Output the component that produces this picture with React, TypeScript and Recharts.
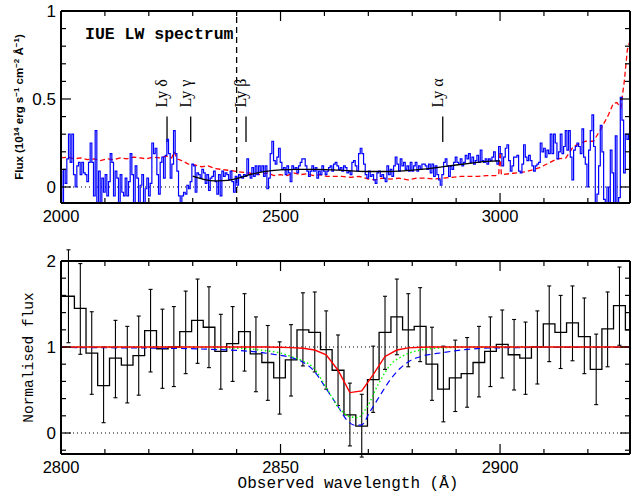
import React from 'react';
import { LineChart, Line, XAxis, YAxis, ReferenceLine, ErrorBar } from 'recharts';

// ---------------- top panel (IUE LW spectrum) ----------------
const blueStart = 2000;
const blueStep = 3.797;
const blueFluxA = [
  0.09, -0.12, 0.10, 0.02, 0.16, 0.30, 0.14, 0.30, 0.07, 0.00,
  0.12, 0.14, 0.07, 0.14, 0.08, 0.07, 0.03, 0.14, 0.25, 0.14,
  -0.05, 0.32, -0.15, 0.09, -0.15, 0.05, -0.03, 0.07, -0.05, 0.03,
  0.19, 0.14, -0.05, 0.09, 0.05, -0.15, 0.07, -0.03, -0.05, 0.05,
  -0.05, 0.03, 0.19, 0.07, -0.15, 0.12, 0.05, -0.15, 0.01, 0.07,
  -0.15, -0.01, 0.05, -0.05, 0.02, 0.25, 0.19, 0.22, 0.07, -0.04,
  0.14, 0.17, 0.05, 0.18, 0.27, 0.19, 0.05, 0.13, 0.32, 0.19,
  0.09, -0.05, -0.15, -0.05, -0.03, -0.04, 0.01, -0.01, 0.03, 0.13,
  0.12, -0.03, 0.08, 0.07, 0.05, 0.10, 0.08,
];
const blueFluxB = [
  0.02, 0.07, -0.02, 0.05, 0.06, 0.09, 0.03, -0.04, 0.07, -0.05,
  0.09, 0.06, 0.08, 0.07, 0.04, 0.09, 0.03, -0.03, 0.06, 0.01,
  0.07, 0.06, 0.05, 0.07, 0.06, 0.16, 0.07, 0.05, 0.11, 0.06,
  0.12, 0.07, 0.12, 0.09, 0.12, 0.06, 0.12, -0.01, 0.05, 0.19,
  0.26, 0.15, 0.13, 0.17, 0.22, 0.14, 0.10, 0.11, 0.07, 0.12,
  0.08, 0.03, 0.12, 0.10, 0.11, 0.08, 0.12, 0.14, 0.16, 0.16,
  0.12, 0.09, 0.06, 0.09, 0.12, 0.09, 0.11, 0.05, 0.09, 0.07,
  0.12, 0.09, 0.07, 0.09, 0.11, 0.12, 0.09, 0.13, 0.14, 0.12,
  0.10, 0.11, 0.09, 0.12,
];
const blueFluxC = [
  0.11, 0.08, 0.09, 0.07, 0.14, 0.15, 0.12, 0.09, 0.19, 0.22,
  0.19, 0.13, 0.07, 0.05, 0.09, 0.06, 0.07, 0.04, 0.02, 0.08,
  0.09, 0.06, 0.07, 0.05, 0.03, 0.12, 0.07, 0.10, 0.06, 0.12,
  0.17, 0.13, 0.09, 0.16, 0.12, 0.14, 0.10, 0.12, 0.09, 0.14,
  0.09, 0.12, 0.14, 0.09, 0.12, 0.10, 0.13, 0.13, 0.12, 0.10,
  0.13, 0.08, 0.13, 0.06, 0.12, 0.07, 0.04, 0.01, 0.07, 0.14,
  0.16, 0.12, 0.06, 0.12, 0.10, 0.14, 0.17, 0.14, 0.13, 0.16,
  0.12, 0.14, 0.18, 0.16, 0.19, 0.14, 0.17, 0.13, 0.15, 0.18,
  0.14, 0.21, 0.15,
];
const blueFluxD = [
  0.14, 0.16, 0.13, 0.16, 0.15, 0.17, 0.20, 0.15, 0.13, 0.23,
  0.19, 0.12, 0.17, 0.22, 0.24, 0.15, 0.09, 0.12, 0.17, 0.17,
  0.18, 0.09, 0.08, 0.13, 0.24, 0.17, 0.15, 0.18, 0.15, 0.12,
  0.09, 0.12, 0.13, 0.14, 0.25, 0.20, 0.22, 0.17, 0.21, 0.19,
  0.30, 0.19, 0.30, 0.25, 0.16, 0.20, 0.30, 0.19, 0.23, 0.32,
  0.21, 0.32, 0.17, 0.04, 0.21, 0.23, 0.25, 0.23, 0.19, 0.33,
  0.17, 0.13, 0.00, 0.21, 0.32, 0.41, 0.23, -0.15, -0.04, 0.12,
  0.35, 0.20, -0.07, -0.15, 0.00, -0.15, 0.21, 0.08, -0.15, 0.29,
  -0.15, -0.06, 0.51, 0.38, 0.08, 0.30, 0.27, 0.30,
];

const redWl = [
  2000, 2015, 2030, 2045, 2060, 2075, 2090, 2105, 2120, 2135, 2150, 2165, 2180, 2195, 2210, 2225, 2240,
  2252, 2258, 2264,
  2275, 2290, 2305, 2320, 2335, 2350, 2365, 2380, 2395, 2410, 2425, 2440, 2455, 2470, 2485, 2500, 2515,
  2530, 2545, 2560, 2575, 2590, 2605, 2620,
  2640, 2660, 2680, 2700, 2715, 2730,
  2750, 2770, 2790, 2810, 2830, 2850, 2870, 2890, 2910, 2930, 2950, 2970, 2990,
  2997, 3000, 3003,
  3030, 3060, 3090, 3110, 3130, 3150, 3167, 3180, 3195, 3213, 3232, 3247, 3258, 3266, 3275, 3283, 3290, 3296,
];
const redFlux = [
  0.165, 0.17, 0.16, 0.165, 0.155, 0.16, 0.15, 0.16, 0.155, 0.165, 0.16, 0.17, 0.165, 0.16, 0.17, 0.165, 0.175,
  0.165, 0.20, 0.16,
  0.15, 0.13, 0.125, 0.115, 0.12, 0.105, 0.10, 0.095, 0.09, 0.085, 0.08, 0.075, 0.07, 0.08, 0.065, 0.07, 0.065,
  0.08, 0.07, 0.075, 0.065, 0.07, 0.06, 0.06,
  0.06, 0.055, 0.06, 0.045, 0.04, 0.05,
  0.045, 0.05, 0.04, 0.05, 0.05, 0.045, 0.05, 0.055, 0.06, 0.06, 0.06, 0.065, 0.065,
  0.07, 0.20, 0.07,
  0.078, 0.087, 0.11, 0.135, 0.16, 0.165, 0.23, 0.245, 0.26, 0.26, 0.34, 0.41, 0.475, 0.48, 0.45, 0.60, 0.78, 0.83,
];

const contWl = [2300, 2315, 2330, 2350, 2370, 2390, 2410, 2430, 2450, 2475, 2500, 2540, 2580, 2620, 2660, 2700, 2740, 2780, 2820, 2860, 2900, 2940, 2970, 3000];
const contFlux = [0.062, 0.05, 0.04, 0.035, 0.036, 0.042, 0.055, 0.07, 0.082, 0.092, 0.097, 0.10, 0.10, 0.097, 0.092, 0.088, 0.088, 0.092, 0.10, 0.112, 0.125, 0.137, 0.145, 0.148];

const lyNames = ['Ly δ', 'Ly γ', 'Ly β', 'Ly α'];
const lyWl = [2241.5, 2295.4, 2421.4, 2869.5];
const lyMarkLow = 0.255;
const lyMarkHigh = 0.40;
const lymanLimitWl = 2400;

const topXTicks = [2000, 2100, 2200, 2300, 2400, 2500, 2600, 2700, 2800, 2900, 3000, 3100, 3200];
const topXMajor = [2000, 2500, 3000];
const topYTicks = [0, 0.1, 0.2, 0.3, 0.4, 0.5, 0.6, 0.7, 0.8, 0.9, 1];
const topYMajor = [0, 0.5, 1];

// ---------------- bottom panel (Ly alpha region) ----------------
const binWl = [
  2801.7, 2804.4, 2807.0, 2809.7, 2812.4, 2815.1, 2817.7, 2820.4, 2823.1, 2825.7,
  2828.4, 2831.1, 2833.7, 2836.4, 2839.1, 2841.8, 2844.4, 2847.1, 2849.8, 2852.4,
  2855.1, 2857.8, 2860.4, 2863.1, 2865.8, 2868.5, 2871.1, 2873.8, 2876.5, 2879.1,
  2881.8, 2884.5, 2887.1, 2889.8, 2892.5, 2895.2, 2897.8, 2900.5, 2903.2, 2905.8,
  2908.5, 2911.2, 2913.8, 2916.5, 2919.2, 2921.9, 2924.5, 2927.2, 2929.9,
];
const binFlux = [
  1.59, 1.45, 0.93, 0.55, 0.87, 0.79, 0.90, 1.19, 0.98, 1.00,
  1.18, 1.31, 1.23, 0.95, 1.04, 1.18, 0.92, 0.82, 0.64, 0.85,
  1.20, 1.17, 0.97, 0.73, 0.21, 0.08, 0.62, 1.17, 1.35, 1.20,
  1.24, 0.80, 0.51, 0.64, 0.69, 0.82, 0.95, 1.03, 0.91, 0.87,
  1.00, 1.27, 1.17, 1.28, 1.12, 0.74, 1.21, 1.48, 1.20,
];
const binErrLo = [
  0.54, 0.535, 0.48, 0.43, 0.46, 0.44, 0.46, 0.48, 0.46, 0.46,
  0.49, 0.50, 0.47, 0.44, 0.44, 0.46, 0.44, 0.44, 0.42, 0.42,
  0.42, 0.46, 0.46, 0.41, 0.36, 0.36, 0.38, 0.43, 0.44, 0.43,
  0.41, 0.42, 0.38, 0.39, 0.39, 0.40, 0.41, 0.39, 0.41, 0.42,
  0.43, 0.44, 0.42, 0.44, 0.43, 0.41, 0.44, 0.46, 0.45,
];
const binErrHi = [
  0.54, 0.52, 0.48, 0.45, 0.44, 0.45, 0.46, 0.48, 0.46, 0.47,
  0.47, 0.48, 0.47, 0.43, 0.43, 0.44, 0.43, 0.43, 0.42, 0.41,
  0.43, 0.47, 0.45, 0.41, 0.37, 0.37, 0.39, 0.42, 0.44, 0.42,
  0.45, 0.43, 0.50, 0.44, 0.42, 0.42, 0.40, 0.40, 0.41, 0.42,
  0.42, 0.44, 0.43, 0.43, 0.45, 0.41, 0.43, 0.45, 0.45,
];
const histStartWl = 2800;

const redModelWl = [2800, 2847.1, 2849.8, 2852.4, 2855.1, 2857.8, 2860.4, 2863.1, 2865.8, 2868.5, 2871.1, 2873.8, 2876.5, 2879.1, 2881.8, 2884.5, 2930];
const redModel = [1.0, 1.0, 0.998, 0.993, 0.985, 0.965, 0.91, 0.73, 0.47, 0.49, 0.68, 0.89, 0.965, 0.99, 0.998, 1.0, 1.0];
const greenModelWl = [2800, 2830, 2838, 2843, 2847, 2850, 2852.4, 2855, 2857.5, 2860.5, 2863.5, 2865.5, 2867.5, 2869.7, 2872.3, 2875, 2878, 2881, 2884, 2888, 2893, 2930];
const greenModel = [1.0, 0.998, 0.99, 0.975, 0.955, 0.93, 0.89, 0.84, 0.76, 0.52, 0.28, 0.195, 0.18, 0.30, 0.57, 0.79, 0.90, 0.955, 0.98, 0.993, 1.0, 1.0];
const blueModelWl = [2800, 2815, 2825, 2833, 2840, 2845, 2849, 2852.2, 2854.9, 2857.5, 2860.1, 2862.8, 2865.5, 2867.0, 2868.5, 2870.4, 2872.7, 2875.0, 2877.2, 2879.5, 2882, 2887, 2892, 2899, 2910, 2930];
const blueModel = [0.995, 0.99, 0.985, 0.975, 0.96, 0.94, 0.91, 0.88, 0.83, 0.73, 0.54, 0.33, 0.13, 0.09, 0.095, 0.25, 0.44, 0.62, 0.75, 0.84, 0.89, 0.935, 0.97, 0.99, 0.995, 0.997];

const botXTicks = [2800, 2810, 2820, 2830, 2840, 2850, 2860, 2870, 2880, 2890, 2900, 2910, 2920];
const botXMajor = [2800, 2850, 2900];
const botYTicks = [-0.2, 0, 0.2, 0.4, 0.6, 0.8, 1, 1.2, 1.4, 1.6, 1.8, 2];
const botYMajor = [0, 1, 2];

// ---------------- derived tables ----------------
const blueSpec = [...blueFluxA, ...blueFluxB, ...blueFluxC, ...blueFluxD].map((f, i) => ({ w: blueStart + i * blueStep, f }));
const redSpec = redWl.map((w, i) => ({ w, f: redFlux[i] }));
const contSpec = contWl.map((w, i) => ({ w, f: contFlux[i] }));
const bins = binWl.map((w, i) => ({ w, f: binFlux[i], e: [binErrLo[i], binErrHi[i]] }));
const hist = [{ w: histStartWl, f: binFlux[0] }, ...bins.map((b) => ({ w: b.w, f: b.f }))];
const redM = redModelWl.map((w, i) => ({ w, f: redModel[i] }));
const greenM = greenModelWl.map((w, i) => ({ w, f: greenModel[i] }));
const blueM = blueModelWl.map((w, i) => ({ w, f: blueModel[i] }));

const TOP_XDOM: [number, number] = [2000, 3296];
const TOP_YDOM: [number, number] = [-0.091, 1];
const BOT_XDOM: [number, number] = [2800, 2929.6];
const BOT_YDOM: [number, number] = [-0.244, 2];

const AXLINE = { stroke: '#000', strokeWidth: 2 };
const SANS = 'Liberation Sans, Arial, sans-serif';
const MONO = 'Liberation Mono, Courier New, monospace';
const SERIF = 'Liberation Serif, Times New Roman, serif';

const fmt = (v: number) => String(Math.round(v * 100) / 100);

function makeTick(side: 'bottom' | 'top' | 'left' | 'right', majors: number[], withLabels: boolean) {
  return (props: any) => {
    const { x, y, payload } = props;
    const v = payload.value;
    const major = majors.some((m) => Math.abs(m - v) < 1e-6);
    const len = major ? 10 : 5;
    let l;
    if (side === 'bottom') l = { x1: x, y1: y, x2: x, y2: y - len };
    else if (side === 'top') l = { x1: x, y1: y, x2: x, y2: y + len };
    else if (side === 'left') l = { x1: x, y1: y, x2: x + len, y2: y };
    else l = { x1: x, y1: y, x2: x - len, y2: y };
    return (
      <g>
        <line {...l} stroke="#000" strokeWidth={1.2} />
        {withLabels && major && side === 'bottom' && (
          <text x={x} y={y + 19} textAnchor="middle" fontFamily={SANS} fontSize={16.5} fill="#000">{fmt(v)}</text>
        )}
        {withLabels && major && side === 'left' && (
          <text x={x - 5} y={y + 6} textAnchor="end" fontFamily={SANS} fontSize={17} fill="#000">{fmt(v)}</text>
        )}
      </g>
    );
  };
}

function lyLabel(text: string) {
  return (p: any) => {
    const vb = p.viewBox || p;
    const x = vb.x;
    const y = vb.y - 9;
    return (
      <text x={x} y={y} transform={`rotate(-90 ${x} ${y})`} fontFamily={SERIF} fontSize={16} fill="#000">{text}</text>
    );
  };
}

const topYLabel = (p: any) => {
  const vb = p.viewBox;
  const x = vb.x + vb.width - 38;
  const y = vb.y + vb.height / 2;
  return (
    <text x={x} y={y} transform={`rotate(-90 ${x} ${y})`} textAnchor="middle" fontFamily={SANS} fontWeight="bold" fontSize={11.5} fill="#000">
      Flux (10<tspan dy={-4} fontSize={8}>14</tspan>
      <tspan dy={4}> erg s</tspan><tspan dy={-4} fontSize={8}>−1</tspan>
      <tspan dy={4}> cm</tspan><tspan dy={-4} fontSize={8}>−2</tspan>
      <tspan dy={4}> Å</tspan><tspan dy={-4} fontSize={8}>−1</tspan>
      <tspan dy={4}>)</tspan>
    </text>
  );
};

const botYLabel = (p: any) => {
  const vb = p.viewBox;
  const x = vb.x + vb.width - 28;
  const y = vb.y + vb.height / 2;
  return (
    <text x={x} y={y} transform={`rotate(-90 ${x} ${y})`} textAnchor="middle" fontFamily={MONO} fontSize={14.5} fill="#000">Normalised flux</text>
  );
};

const botXLabel = (p: any) => {
  const vb = p.viewBox;
  return (
    <text x={vb.x + vb.width / 2 + 2.5} y={vb.y + 34} textAnchor="middle" fontFamily={MONO} fontSize={16} fill="#000">Observed wavelength (Å)</text>
  );
};

export default function App() {
  return (
    <div style={{ position: 'absolute', left: 0, top: 0, width: 631, height: 498, background: '#fff', overflow: 'hidden' }}>
      <div style={{ position: 'absolute', left: 0, top: 0 }}>
        <LineChart width={631} height={240} margin={{ top: 10, right: 0, bottom: 36, left: 60 }}>
          <XAxis xAxisId={0} dataKey="w" type="number" domain={TOP_XDOM} allowDataOverflow ticks={topXTicks} interval={0}
            height={1} tickSize={0} tickMargin={0} tickLine={false} axisLine={AXLINE} tick={makeTick('bottom', topXMajor, true)} />
          <XAxis xAxisId="t" orientation="top" dataKey="w" type="number" domain={TOP_XDOM} allowDataOverflow ticks={topXTicks} interval={0}
            height={1} tickSize={0} tickMargin={0} tickLine={false} axisLine={AXLINE} tick={makeTick('top', topXMajor, false)} />
          <YAxis yAxisId={0} type="number" domain={TOP_YDOM} allowDataOverflow ticks={topYTicks} interval={0}
            width={1} tickSize={0} tickMargin={0} tickLine={false} axisLine={AXLINE} tick={makeTick('left', topYMajor, true)} label={topYLabel} />
          <YAxis yAxisId="r" orientation="right" type="number" domain={TOP_YDOM} allowDataOverflow ticks={topYTicks} interval={0}
            width={1} tickSize={0} tickMargin={0} tickLine={false} axisLine={AXLINE} tick={makeTick('right', topYMajor, false)} />
          <ReferenceLine y={0} stroke="#000" strokeWidth={1} strokeDasharray="1 3" />
          <ReferenceLine x={lymanLimitWl} stroke="#000" strokeWidth={1.3} strokeDasharray="6 4" />
          {lyWl.map((w, i) => (
            <ReferenceLine key={lyNames[i]} segment={[{ x: w, y: lyMarkLow }, { x: w, y: lyMarkHigh }]} stroke="#000" strokeWidth={1.3}
              label={lyLabel(lyNames[i])} />
          ))}
          <Line data={redSpec} dataKey="f" type="linear" stroke="#ff0000" strokeWidth={1.3} strokeDasharray="5 3" dot={false} activeDot={false} isAnimationActive={false} />
          <Line data={blueSpec} dataKey="f" type="step" stroke="#0000ff" strokeWidth={1.2} dot={false} activeDot={false} isAnimationActive={false} />
          <Line data={contSpec} dataKey="f" type="monotone" stroke="#000" strokeWidth={1.3} dot={false} activeDot={false} isAnimationActive={false} />
        </LineChart>
      </div>
      <div style={{ position: 'absolute', left: 0, top: 240 }}>
        <LineChart width={631} height={258} margin={{ top: 20, right: 0, bottom: 43, left: 60 }}>
          <XAxis xAxisId={0} dataKey="w" type="number" domain={BOT_XDOM} allowDataOverflow ticks={botXTicks} interval={0}
            height={1} tickSize={0} tickMargin={0} tickLine={false} axisLine={AXLINE} tick={makeTick('bottom', botXMajor, true)} label={botXLabel} />
          <XAxis xAxisId="t" orientation="top" dataKey="w" type="number" domain={BOT_XDOM} allowDataOverflow ticks={botXTicks} interval={0}
            height={1} tickSize={0} tickMargin={0} tickLine={false} axisLine={AXLINE} tick={makeTick('top', botXMajor, false)} />
          <YAxis yAxisId={0} type="number" domain={BOT_YDOM} allowDataOverflow ticks={botYTicks} interval={0}
            width={1} tickSize={0} tickMargin={0} tickLine={false} axisLine={AXLINE} tick={makeTick('left', botYMajor, true)} label={botYLabel} />
          <YAxis yAxisId="r" orientation="right" type="number" domain={BOT_YDOM} allowDataOverflow ticks={botYTicks} interval={0}
            width={1} tickSize={0} tickMargin={0} tickLine={false} axisLine={AXLINE} tick={makeTick('right', botYMajor, false)} />
          <ReferenceLine y={0} stroke="#000" strokeWidth={1} strokeDasharray="1 3" />
          <ReferenceLine y={1} stroke="#000" strokeWidth={1} strokeDasharray="1 3" />
          <Line data={hist} dataKey="f" type="step" stroke="#000" strokeWidth={1.3} dot={false} activeDot={false} isAnimationActive={false} />
          <Line data={bins} dataKey="f" type="linear" stroke="none" dot={false} activeDot={false} isAnimationActive={false}>
            <ErrorBar dataKey="e" direction="y" width={2} stroke="#000" strokeWidth={1.1} isAnimationActive={false} />
          </Line>
          <Line data={blueM} dataKey="f" type="monotone" stroke="#0000ff" strokeWidth={1.2} strokeDasharray="6 4" dot={false} activeDot={false} isAnimationActive={false} />
          <Line data={greenM} dataKey="f" type="monotone" stroke="#00ff00" strokeWidth={1.4} strokeDasharray="1.5 2.5" dot={false} activeDot={false} isAnimationActive={false} />
          <Line data={redM} dataKey="f" type="linear" stroke="#ff0000" strokeWidth={1.4} dot={false} activeDot={false} isAnimationActive={false} />
        </LineChart>
      </div>
      <svg width={631} height={60} style={{ position: 'absolute', left: 0, top: 0, pointerEvents: 'none' }}>
        <text x={85} y={38.5} fontFamily={MONO} fontWeight="bold" fontSize={16.5} fill="#000">IUE LW spectrum</text>
      </svg>
    </div>
  );
}
